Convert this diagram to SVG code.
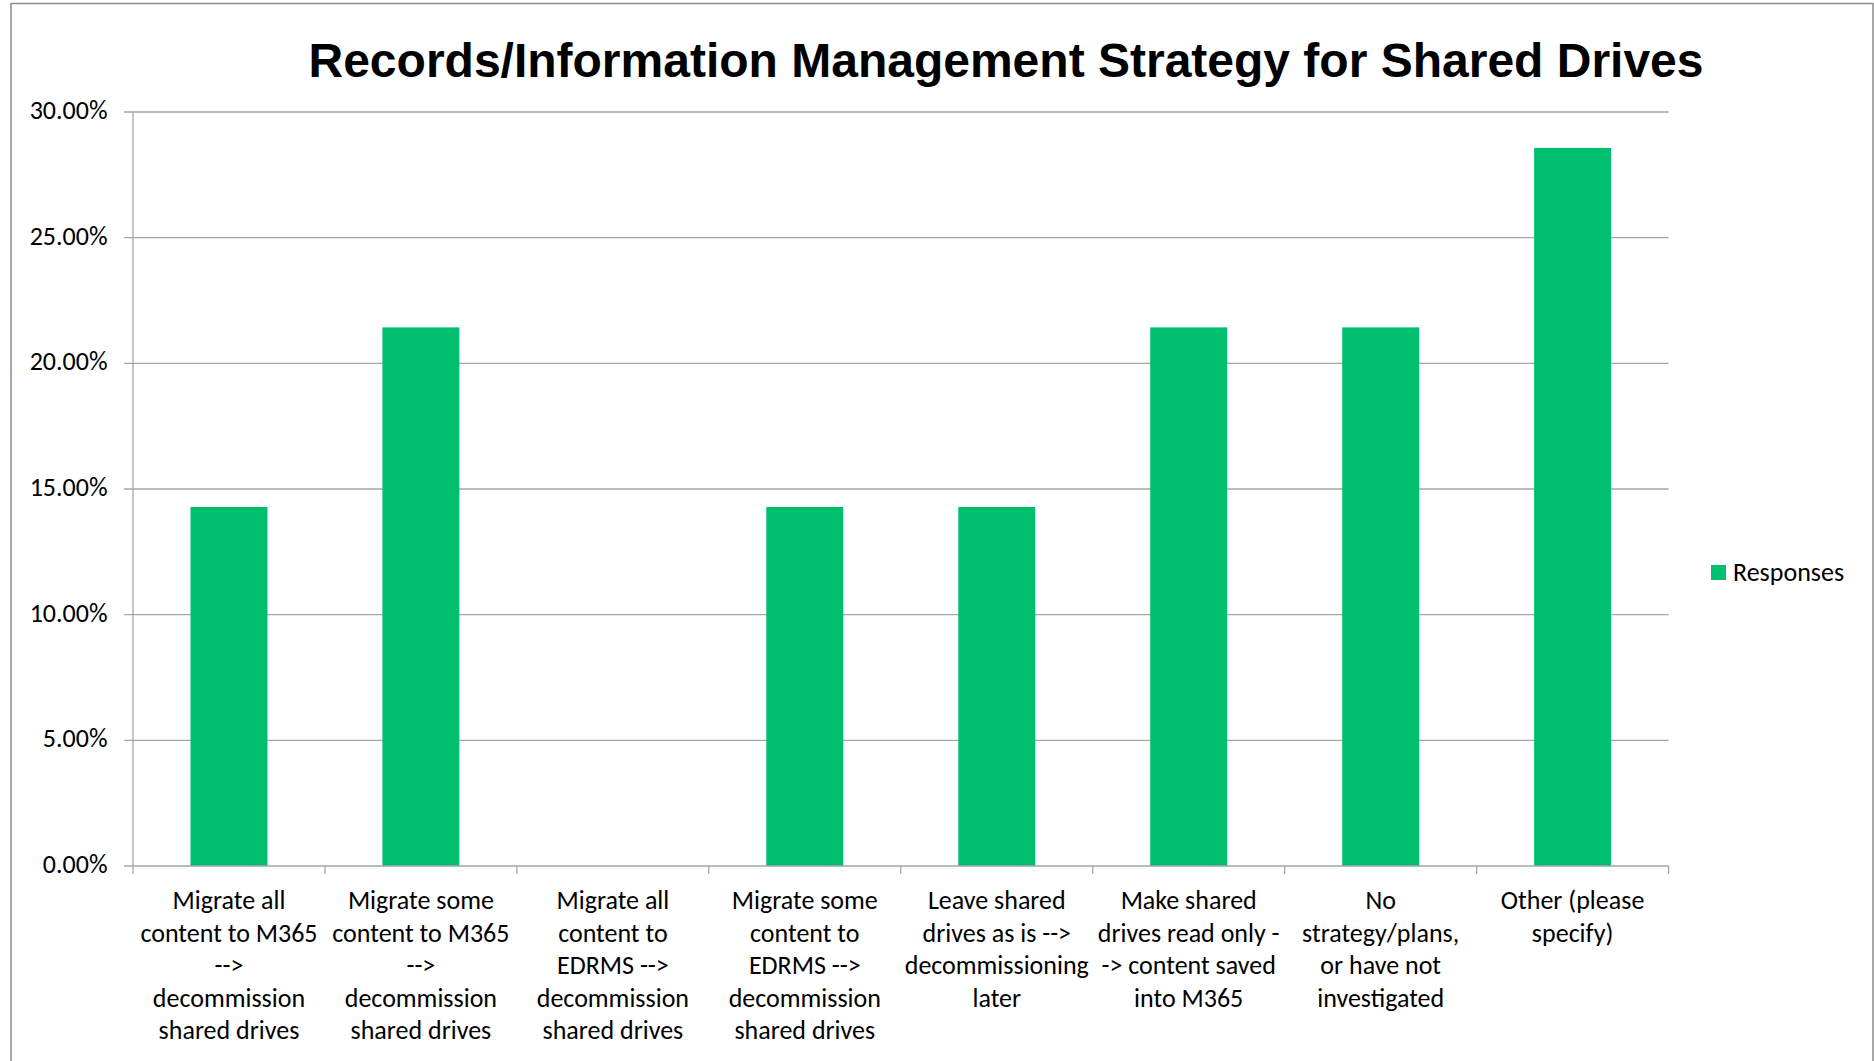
<svg xmlns="http://www.w3.org/2000/svg" width="1874" height="1061" viewBox="0 0 1874 1061">
<style>
.frame{fill:#ffffff;stroke:#8c8c8c;stroke-width:1.5}
.grid{stroke:#a6a6a6;stroke-width:1.3;fill:none}
.axis{stroke:#a6a6a6;stroke-width:1.3;fill:none}
.bar{fill:#00bf6f}
.title{font-family:"Liberation Sans",Arial,sans-serif;font-weight:bold;font-size:48px;fill:#000;text-anchor:middle}
.ylab{font-family:Carlito,Calibri,Lato,sans-serif;font-size:26px;fill:#000;text-anchor:end}
.xlab{font-family:Carlito,Calibri,Lato,sans-serif;font-size:26px;fill:#000;text-anchor:middle}
.leg{font-family:Carlito,Calibri,Lato,sans-serif;font-size:26px;fill:#000}
</style>
<rect class="frame" x="11" y="3.5" width="1862" height="1070"/>
<g id="title"><text class="title" x="1006" y="77">Records/Information Management Strategy for Shared Drives</text></g>
<g id="gridlines">
<line class="grid" x1="124" y1="112" x2="1668.6" y2="112"/>
<line class="grid" x1="124" y1="237.7" x2="1668.6" y2="237.7"/>
<line class="grid" x1="124" y1="363.3" x2="1668.6" y2="363.3"/>
<line class="grid" x1="124" y1="489" x2="1668.6" y2="489"/>
<line class="grid" x1="124" y1="614.7" x2="1668.6" y2="614.7"/>
<line class="grid" x1="124" y1="740.3" x2="1668.6" y2="740.3"/>
</g>
<g id="y-axis">
<line class="axis" x1="133" y1="112" x2="133" y2="874"/>
<text class="ylab" x="107.5" y="119">30.00%</text>
<text class="ylab" x="107.5" y="244.7">25.00%</text>
<text class="ylab" x="107.5" y="370.3">20.00%</text>
<text class="ylab" x="107.5" y="496">15.00%</text>
<text class="ylab" x="107.5" y="621.7">10.00%</text>
<text class="ylab" x="107.5" y="747.3">5.00%</text>
<text class="ylab" x="107.5" y="873">0.00%</text>
</g>
<g id="bars">
<rect id="bar1" class="bar" x="190.5" y="507" width="77" height="359"/>
<rect id="bar2" class="bar" x="382.4" y="327.4" width="77" height="538.6"/>
<rect id="bar4" class="bar" x="766.3" y="507" width="77" height="359"/>
<rect id="bar5" class="bar" x="958.3" y="507" width="77" height="359"/>
<rect id="bar6" class="bar" x="1150.2" y="327.4" width="77" height="538.6"/>
<rect id="bar7" class="bar" x="1342.2" y="327.4" width="77" height="538.6"/>
<rect id="bar8" class="bar" x="1534.1" y="147.9" width="77" height="718.1"/>
</g>
<g id="x-axis">
<line class="axis" x1="124" y1="866" x2="1668.6" y2="866"/>
<line class="axis" x1="325" y1="866" x2="325" y2="874"/>
<line class="axis" x1="516.9" y1="866" x2="516.9" y2="874"/>
<line class="axis" x1="708.8" y1="866" x2="708.8" y2="874"/>
<line class="axis" x1="900.8" y1="866" x2="900.8" y2="874"/>
<line class="axis" x1="1092.8" y1="866" x2="1092.8" y2="874"/>
<line class="axis" x1="1284.7" y1="866" x2="1284.7" y2="874"/>
<line class="axis" x1="1476.7" y1="866" x2="1476.7" y2="874"/>
<line class="axis" x1="1668.6" y1="866" x2="1668.6" y2="874"/>
</g>
<g id="cat1"><text class="xlab" x="229" y="909">Migrate all</text><text class="xlab" x="229" y="941.5">content to M365</text><text class="xlab" x="229" y="974">--&gt;</text><text class="xlab" x="229" y="1006.5">decommission</text><text class="xlab" x="229" y="1039">shared drives</text></g>
<g id="cat2"><text class="xlab" x="420.9" y="909">Migrate some</text><text class="xlab" x="420.9" y="941.5">content to M365</text><text class="xlab" x="420.9" y="974">--&gt;</text><text class="xlab" x="420.9" y="1006.5">decommission</text><text class="xlab" x="420.9" y="1039">shared drives</text></g>
<g id="cat3"><text class="xlab" x="612.9" y="909">Migrate all</text><text class="xlab" x="612.9" y="941.5">content to</text><text class="xlab" x="612.9" y="974">EDRMS --&gt;</text><text class="xlab" x="612.9" y="1006.5">decommission</text><text class="xlab" x="612.9" y="1039">shared drives</text></g>
<g id="cat4"><text class="xlab" x="804.8" y="909">Migrate some</text><text class="xlab" x="804.8" y="941.5">content to</text><text class="xlab" x="804.8" y="974">EDRMS --&gt;</text><text class="xlab" x="804.8" y="1006.5">decommission</text><text class="xlab" x="804.8" y="1039">shared drives</text></g>
<g id="cat5"><text class="xlab" x="996.8" y="909">Leave shared</text><text class="xlab" x="996.8" y="941.5">drives as is --&gt;</text><text class="xlab" x="996.8" y="974">decommissioning</text><text class="xlab" x="996.8" y="1006.5">later</text></g>
<g id="cat6"><text class="xlab" x="1188.7" y="909">Make shared</text><text class="xlab" x="1188.7" y="941.5">drives read only -</text><text class="xlab" x="1188.7" y="974">-&gt; content saved</text><text class="xlab" x="1188.7" y="1006.5">into M365</text></g>
<g id="cat7"><text class="xlab" x="1380.7" y="909">No</text><text class="xlab" x="1380.7" y="941.5">strategy/plans,</text><text class="xlab" x="1380.7" y="974">or have not</text><text class="xlab" x="1380.7" y="1006.5">investigated</text></g>
<g id="cat8"><text class="xlab" x="1572.6" y="909">Other (please</text><text class="xlab" x="1572.6" y="941.5">specify)</text></g>
<g id="legend">
<rect class="bar" x="1711" y="565" width="15" height="15"/>
<text class="leg" x="1733" y="581">Responses</text>
</g>
</svg>
